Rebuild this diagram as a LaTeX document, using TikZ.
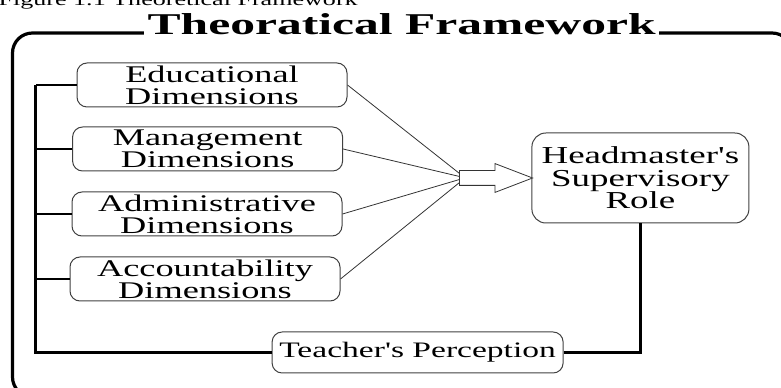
\documentclass[tikz,border=0pt]{standalone}
\usepackage{fontspec}
\usepackage{tikz}
\usetikzlibrary{calc,shapes.arrows}
\newfontfamily\wide[FakeStretch=1.52]{Liberation Serif}
\newfontfamily\widetitle[FakeStretch=1.64]{Liberation Serif}
\tikzset{
	dimbox/.style={draw=black!75, line width=0.25mm, rounded corners=0.25cm, minimum width=6.75cm, minimum height=1.1cm, inner sep=0, align=center, font=\wide\fontsize{17}{15.6}\selectfont},
	rolebox/.style={draw=black!75, line width=0.25mm, rounded corners=0.35cm, minimum width=5.425cm, minimum height=2.25cm, inner sep=0, align=center, font=\wide\fontsize{17.3}{16}\selectfont},
	viewbox/.style={dimbox, minimum width=7.275cm, minimum height=1.025cm, font=\wide\fontsize{15.7}{16}\selectfont},
	blockarrow/.style={single arrow, draw=black!80, fill=white, line width=0.2mm, inner xsep=0, inner ysep=0.175cm, minimum height=1.825cm, single arrow head extend=0.175cm, single arrow tip angle=42, single arrow head indent=0},
	bar/.style={line width=0.85mm, black},
	branch/.style={line width=0.3mm, black},
	link/.style={line width=0.2mm, black!80}
}

\begin{document}
\begin{tikzpicture}
			%%%%% START %%%%%
			
			\useasboundingbox (0, 0) rectangle (19.525, 9.675);
			
			\node[anchor=base east, inner sep=0, font=\wide\fontsize{12.2}{14}\selectfont] (cap) at (8.95, 9.525) {Figure 1.1 Theoretical Framework};
			
			\draw[line width=0.8mm, rounded corners=0.5cm] (0.3125, -0.25) rectangle (19.8, 8.85);
			\node[anchor=base, fill=white, inner xsep=0.08cm, inner ysep=0.05cm, font=\widetitle\bfseries\fontsize{21.5}{24}\selectfont] (title) at (10.04, 8.8) {Theoratical Framework};
			
			\node[dimbox] (edu) at (5.3, 7.55) {Educational\\Dimensions};
			\node[dimbox] (mgt) at (5.19, 5.95) {Management\\Dimensions};
			\node[dimbox] (adm) at (5.175, 4.325) {Administrative\\Dimensions};
			\node[dimbox] (acc) at (5.125, 2.7) {Accountability\\Dimensions};
			
			\node[rolebox] (hm) at (16.01, 5.225) {Headmaster's\\Supervisory\\Role};
			\node[viewbox] (tp) at (10.44, 0.8625) {Teacher's Perception};
			
			\node[blockarrow] (arr) at (12.16, 5.225) {};
			
			\foreach \b/\dy in {edu/0.12, mgt/0.04, adm/-0.04, acc/-0.12}
				\draw[link] (\b.east) -- ($(arr.west)+(0, \dy)$);
			
			\coordinate (bus) at (0.8875, 0);
			\foreach \b in {edu, mgt, adm, acc}
				\draw[branch] (\b.west) -- (\b.west -| bus);
			\draw[bar] (tp.west) -| (edu.west -| bus);
			\draw[bar] (tp.east) -| (hm.south);
			
			%%%%% END %%%%%
\end{tikzpicture}
\end{document}
